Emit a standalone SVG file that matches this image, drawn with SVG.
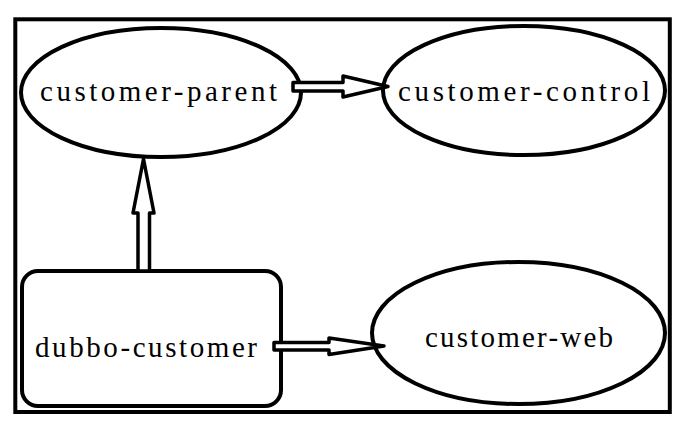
<svg xmlns="http://www.w3.org/2000/svg" width="689" height="429" viewBox="0 0 689 429">
<style>
.shape{fill:#fff;stroke:#000;stroke-width:4}
.arrow{fill:#fff;stroke:#000;stroke-width:3.5;stroke-linejoin:round}
.label{font-family:"Liberation Serif","Times New Roman",serif;font-size:29px;fill:#000}
</style>
<rect x="0" y="0" width="689" height="429" fill="#fff"/>
<rect id="frame" x="15.3" y="19.3" width="654.5" height="392.7" fill="#fff" stroke="#000" stroke-width="4"/>
<g id="customer-parent">
<ellipse class="shape" cx="161" cy="92.5" rx="140" ry="64.5"/>
<text class="label" x="40" y="101" textLength="237" lengthAdjust="spacing">customer-parent</text>
</g>
<g id="customer-control">
<ellipse class="shape" cx="524" cy="90.5" rx="141" ry="64.5"/>
<text class="label" x="398" y="101" textLength="252" lengthAdjust="spacing">customer-control</text>
</g>
<g id="customer-web">
<ellipse class="shape" cx="518.5" cy="333" rx="146.5" ry="71"/>
<text class="label" x="425" y="347" textLength="188" lengthAdjust="spacing">customer-web</text>
</g>
<g id="dubbo-customer">
<rect class="shape" x="22" y="271" width="259" height="135" rx="16" ry="16"/>
<text class="label" x="35" y="357" textLength="222" lengthAdjust="spacing">dubbo-customer</text>
</g>
<g id="connectors">
<polygon class="arrow" points="293,82.5 343,82.5 343,76 388,86.5 343,97 343,91 293,91"/>
<polygon class="arrow" points="138,271 138,213 133,213 143.5,159 154,213 149.5,213 149.5,271"/>
<polygon class="arrow" points="274,342.5 329,342.5 329,338 384,346 329,354.5 329,350 274,350"/>
</g>
</svg>
